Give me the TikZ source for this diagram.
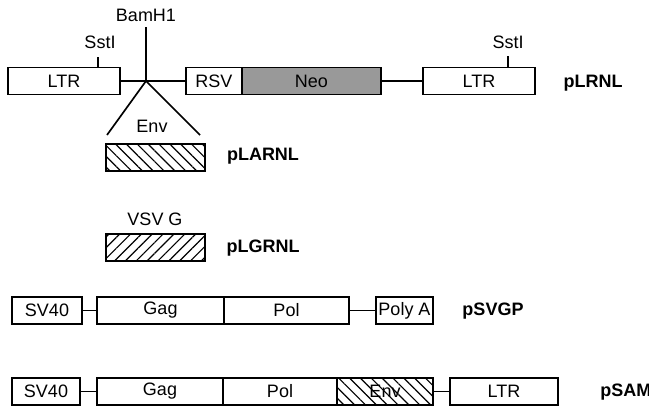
\documentclass[tikz,border=0pt]{standalone}
\usepackage{fontspec}
\setmainfont{Liberation Sans}
\usepackage{xcolor}
\usepackage{tikz}
\usetikzlibrary{positioning,calc,patterns.meta}

\begin{document}
\begin{tikzpicture}[x=0.6pt, y=-0.6pt, font=\fontsize{10.8}{13}\selectfont,
    seg/.style={draw, line width=1pt, minimum height=16.2pt, inner sep=0pt, outer sep=0pt},
    bwd/.style={pattern={Lines[angle=-45, distance=4.6pt, line width=0.7pt]}},
    fwd/.style={pattern={Lines[angle=45, distance=4.6pt, line width=0.7pt]}},
    vname/.style={font=\fontsize{10.8}{13}\selectfont\bfseries},
    link/.style={line width=1pt}]
\useasboundingbox (0,0) rectangle (649,408);

% pLRNL
\node[seg, minimum width=67.2pt] (ltrA) at (64,81) {LTR};
\node[seg, minimum width=33.6pt] (rsv) at (214,81) {RSV};
\node[seg, minimum width=83.4pt, fill=black!40] (neo) at (311.5,81) {Neo};
\node[seg, minimum width=67.2pt] (ltrC) at (479,81) {LTR};
\node[vname] (lrnl) at (593,83) {pLRNL};
\draw[link] (ltrA.east) -- (rsv.west);
\draw[link] (neo.east) -- (ltrC.west);

% restriction sites
\coordinate (bam) at (146,81);
\coordinate (bamtop) at (146,27);
\node (bamlbl) at (146,15) {BamH1};
\draw[link] (bamtop) -- (bam);
\coordinate (sstA) at (98,57);
\node (sstAlbl) at (100,42) {SstI};
\draw[link] (sstA) -- (sstA |- ltrA.north);
\coordinate (sstC) at (508,56);
\node (sstClbl) at (508,42) {SstI};
\draw[link] (sstC) -- (sstC |- ltrC.north);

% inserts
\coordinate (envL) at (107,135);
\coordinate (envR) at (200,135);
\draw[link] (envL) -- (bam) -- (envR);
\node (envlbl) at (152,126) {Env};
\node[seg, minimum width=59.4pt, bwd] (envA) at (155.5,157.5) {};
\node[vname] (larnl) at (263,156) {pLARNL};
\node (vsvlbl) at (155,219) {VSV G};
\node[seg, minimum width=59.4pt, fwd] (vsv) at (155.5,247.5) {};
\node[vname] (lgrnl) at (263,248) {pLGRNL};

% pSVGP
\node[seg, minimum width=42pt] (svA) at (47,310.5) {SV40};
\node[seg, minimum width=76.2pt] (gagA) at (160.5,310.5) {Gag};
\node[seg, minimum width=75pt] (polA) at (286.5,310.5) {Pol};
\node[seg, minimum width=34.2pt] (polyA) at (404.5,310.5) {Poly A};
\node[vname] (svgp) at (493,311) {pSVGP};
\draw[link] (svA.east) -- (gagA.west);
\draw[link] (polA.east) -- (polyA.west);

% pSAM
\node[seg, minimum width=40.8pt] (svB) at (46,391.5) {SV40};
\node[seg, minimum width=75.6pt] (gagB) at (160,391.5) {Gag};
\node[seg, minimum width=68.4pt] (polB) at (280,391.5) {Pol};
\node[seg, minimum width=57.6pt, bwd] (envB) at (385,391.5) {Env};
\node[seg, minimum width=64.8pt] (ltrB) at (504,391.5) {LTR};
\node[vname, anchor=west, inner sep=0pt] (sam) at (600,392) {pSAM};
\draw[link] (svB.east) -- (gagB.west);
\draw[link] (envB.east) -- (ltrB.west);

\end{tikzpicture}
\end{document}
